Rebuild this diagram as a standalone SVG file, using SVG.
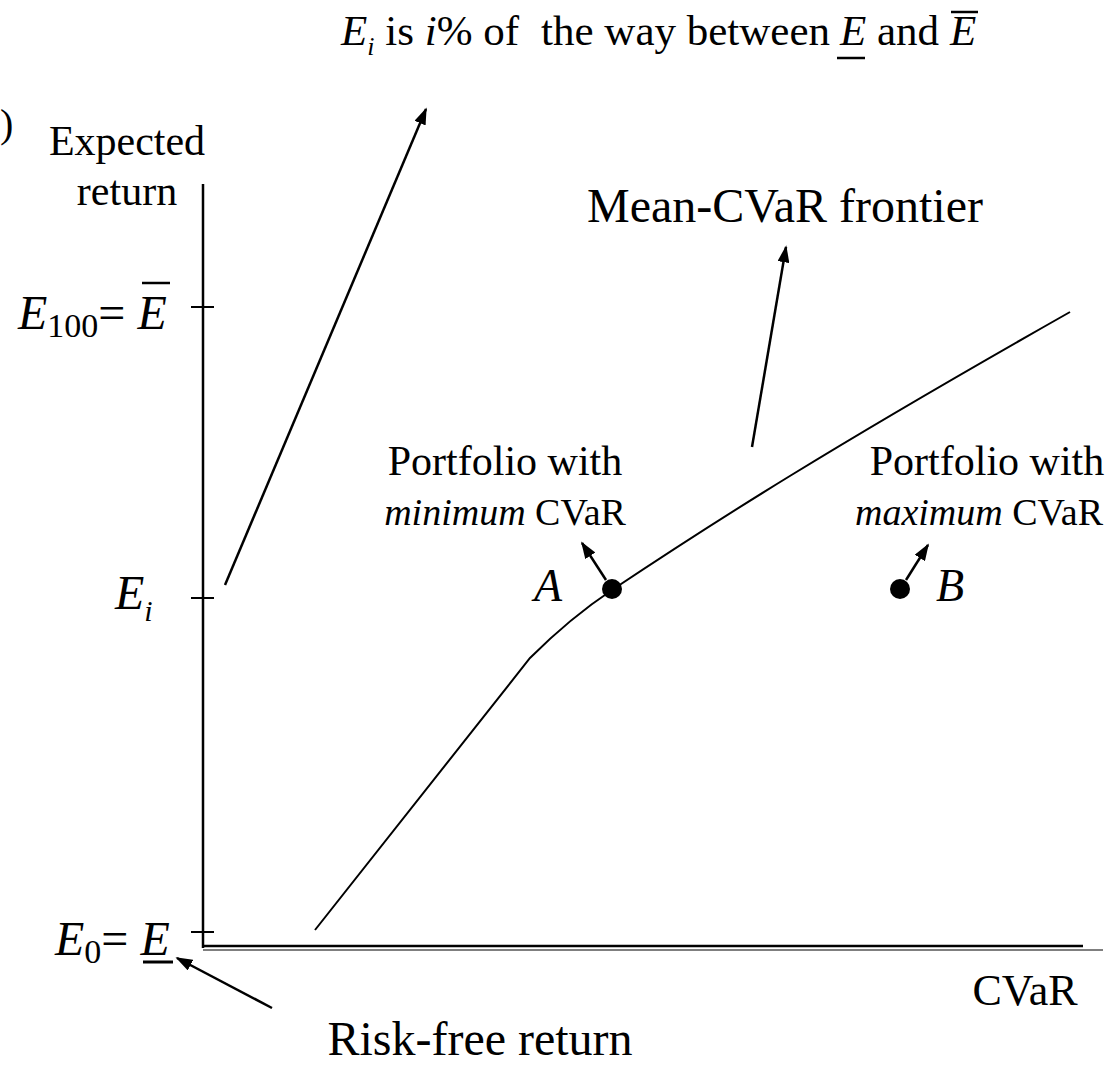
<svg xmlns="http://www.w3.org/2000/svg" width="1115" height="1080" viewBox="0 0 1115 1080">
  <style>
    text { font-family: "Liberation Serif", "Times New Roman", serif; fill: #000; }
    .it { font-style: italic; }
    .ln { stroke: #000; fill: none; }
  </style>
  <defs>
    <marker id="ahs" viewBox="0 0 10 10" refX="9" refY="5" markerWidth="17" markerHeight="12" markerUnits="userSpaceOnUse" orient="auto" preserveAspectRatio="none">
      <path d="M0,0 L10,5 L0,10 z" fill="#000"/>
    </marker>
  </defs>

  <!-- title -->
  <g id="title">
    <text x="341" y="45" font-size="43"><tspan class="it">E</tspan><tspan class="it" font-size="26" dy="10">i</tspan><tspan dy="-10"> is </tspan><tspan class="it">i</tspan><tspan>% of</tspan><tspan dx="22">the way between</tspan><tspan x="840" class="it">E</tspan><tspan> and </tspan><tspan class="it">E</tspan></text>
    <line class="ln" x1="837" y1="58" x2="865" y2="58" stroke-width="2.5"/>
    <line class="ln" x1="951" y1="12" x2="978" y2="12" stroke-width="2.5"/>
  </g>

  <text x="0" y="137" font-size="40">)</text>

  <!-- axes -->
  <g id="axes">
    <line class="ln" x1="203" y1="184" x2="203" y2="948" stroke-width="2.5"/>
    <line class="ln" x1="203" y1="946" x2="1083" y2="946" stroke-width="2.5"/>
    <line class="ln" x1="203" y1="950" x2="1103" y2="950" stroke-width="1.2"/>
    <line class="ln" x1="191" y1="307" x2="214" y2="307" stroke-width="2"/>
    <line class="ln" x1="191" y1="598" x2="214" y2="598" stroke-width="2"/>
    <line class="ln" x1="191" y1="932" x2="214" y2="932" stroke-width="2"/>
    <text x="127" y="155" font-size="42" text-anchor="middle">Expected</text>
    <text x="127" y="205" font-size="42" text-anchor="middle">return</text>
    <text x="1025" y="1005" font-size="44" text-anchor="middle">CVaR</text>
  </g>

  <!-- axis labels -->
  <g id="label-e100">
    <text x="18" y="329" font-size="48"><tspan class="it">E</tspan><tspan font-size="34" dy="8">100</tspan><tspan dy="-8">= </tspan><tspan class="it">E</tspan></text>
    <line class="ln" x1="142" y1="283" x2="170" y2="283" stroke-width="2.5"/>
  </g>
  <g id="label-ei">
    <text x="115" y="609" font-size="48"><tspan class="it">E</tspan><tspan class="it" font-size="30" dy="12">i</tspan></text>
  </g>
  <g id="label-e0">
    <text x="55" y="955" font-size="48"><tspan class="it">E</tspan><tspan font-size="34" dy="8">0</tspan><tspan dy="-8">= </tspan><tspan class="it">E</tspan></text>
    <line class="ln" x1="143" y1="962" x2="173" y2="962" stroke-width="3"/>
  </g>

  <!-- frontier -->
  <g id="frontier">
    <path class="ln" d="M315,930 L530,658 C558,630 585,608 612,590 C720,518 830,448 1070,312" stroke-width="2"/>
    <text x="785" y="222" font-size="48" text-anchor="middle">Mean-CVaR frontier</text>
  </g>

  <!-- portfolios -->
  <g id="portfolio-a">
    <circle cx="612" cy="589" r="10" fill="#000"/>
    <text x="505" y="475" font-size="42" text-anchor="middle">Portfolio with</text>
    <text x="505" y="525" font-size="38" text-anchor="middle"><tspan class="it">minimum</tspan> CVaR</text>
    <text x="534" y="601" font-size="46" class="it">A</text>
  </g>
  <g id="portfolio-b">
    <circle cx="900" cy="589" r="10" fill="#000"/>
    <text x="987" y="475" font-size="42" text-anchor="middle">Portfolio with</text>
    <text x="979" y="525" font-size="38" text-anchor="middle"><tspan class="it">maximum</tspan> CVaR</text>
    <text x="936" y="601" font-size="46" class="it">B</text>
  </g>

  <text x="480" y="1055" font-size="48" text-anchor="middle">Risk-free return</text>

  <!-- connectors -->
  <g id="connectors" stroke="#000" fill="none">
    <line x1="225" y1="585" x2="426" y2="109" stroke-width="2.5" marker-end="url(#ahs)"/>
    <line x1="752" y1="447" x2="786" y2="247" stroke-width="2.5" marker-end="url(#ahs)"/>
    <line x1="272" y1="1008" x2="177" y2="958" stroke-width="2.5" marker-end="url(#ahs)"/>
    <line x1="606" y1="580" x2="582" y2="543" stroke-width="2.5" marker-end="url(#ahs)"/>
    <line x1="906" y1="580" x2="928" y2="545" stroke-width="2.5" marker-end="url(#ahs)"/>
  </g>
</svg>
